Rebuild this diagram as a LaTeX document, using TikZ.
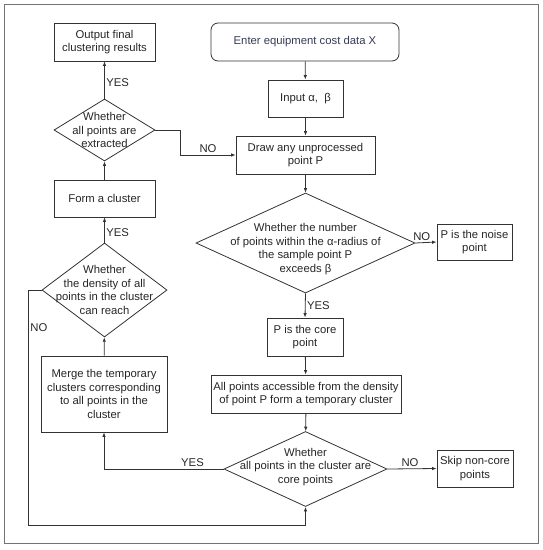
\documentclass[tikz,border=0pt]{standalone}
\usepackage{fontspec}
\setmainfont{Liberation Sans}
\usetikzlibrary{shapes.geometric,arrows.meta}
\definecolor{starttext}{RGB}{52,58,84}
\begin{document}
\begin{tikzpicture}[
  x=1pt, y=-1pt,
  every node/.style = {draw=black!80, line width=0.8pt, align=center, text=black!85,
    font=\fontsize{11.3}{13.6}\selectfont, inner sep=1pt},
  box/.style = {rectangle, minimum width=#1, minimum height=37pt},
  ask/.style = {diamond, inner sep=0pt},
  lbl/.style = {draw=none, inner sep=1.5pt},
  link/.style = {draw=black!80, line width=0.8pt, -{Latex[length=4.5pt,width=3.5pt]}}
  ]
  \useasboundingbox (0,0) rectangle (543,550);
  \draw[black!55, line width=0.8pt] (4,4) rectangle (538,543);

  % right column
  \node[box=188pt, minimum height=38pt, rounded corners=7pt, text=starttext] (enter) at (305,42) {Enter equipment cost data X};
  \node[box=75pt] (input) at (305.5,98.5) {Input α,\ \ β};
  \node[box=139pt, minimum height=38pt] (draw) at (305.5,155) {Draw any unprocessed\\point P};
  \node[ask, minimum width=219pt, minimum height=100pt,
    label={[lbl, yshift=-6pt]center:{Whether the number\\of points within the α-radius of\\the sample point P\\exceeds β}}] (num) at (305.5,243) {};
  \node[box=75pt, minimum height=36pt] (noise) at (474.5,242) {P is the noise\\point};
  \node[box=76pt, minimum height=38pt] (core) at (305,337) {P is the core\\point};
  \node[box=190pt, minimum height=38pt] (reach) at (306,394) {All points accessible from the density\\of point P form a temporary cluster};
  \node[ask, minimum width=163pt, minimum height=75pt,
    label={[lbl, yshift=2pt]center:{Whether\\all points in the cluster are\\core points}}] (allcore) at (305.5,469) {};
  \node[box=76pt] (skip) at (475,468.5) {Skip non-core\\points};

  % left column
  \node[box=126pt, minimum height=76pt] (merge) at (104,394) {Merge the temporary\\clusters corresponding\\to all points in the\\cluster};
  \node[ask, minimum width=125pt, minimum height=94pt,
    label={[lbl]center:{Whether\\the density of all\\points in the cluster\\can reach}}] (dens) at (104.5,290) {};
  \node[box=101pt] (form) at (104.5,198.5) {Form a cluster};
  \node[ask, minimum width=101pt, minimum height=62pt,
    label={[lbl]center:{Whether\\all points are\\extracted}}] (done) at (104.5,130) {};
  \node[box=101pt, minimum height=38pt] (out) at (104.5,42) {Output final\\clustering results};

  \draw[link] (enter) -- (input);
  \draw[link] (input) -- (draw);
  \draw[link] (draw) -- (num);
  \draw[link] (num.east) -- (noise.west) node[lbl, pos=0.3, above] {NO};
  \draw[link] (num.south) -- (core.north) node[lbl, pos=0.5, right] {YES};
  \draw[link] (core) -- (reach);
  \draw[link] (reach) -- (allcore);
  \draw[link] (allcore.east) -- (skip.west) node[lbl, pos=0.46, above] {NO};
  \draw[link] (allcore.west) -| (merge.south) node[lbl, pos=0.13, above] {YES};
  \draw[link] (merge) -- (dens);
  \draw[link] (dens.north) -- (form.south) node[lbl, pos=0.38, right] {YES};
  \draw[link] (dens.west) -- ++(-13,0) -- ++(0,235) node[lbl, pos=0.16, right] {NO} -| (allcore.south);
  \draw[link] (form) -- (done);
  \draw[link] (done.north) -- (out.south) node[lbl, pos=0.42, right] {YES};
  \draw[link] (done.east) -- ++(25,0) |- (draw.west) node[lbl, pos=0.75, above] {NO};
\end{tikzpicture}
\end{document}
